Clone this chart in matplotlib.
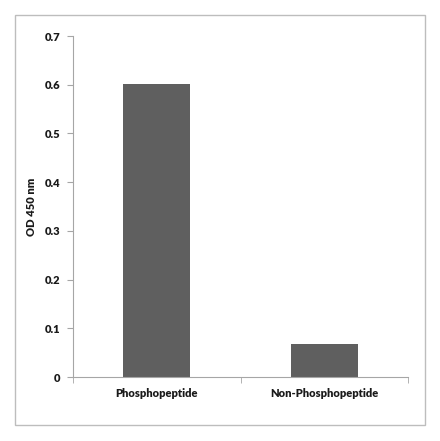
import numpy as np
import matplotlib
matplotlib.use('Agg')
import matplotlib.pyplot as plt
from matplotlib.patches import Rectangle

plt.rcParams['font.family'] = ['Lato', 'DejaVu Sans']

# data
categories = ['Phosphopeptide', 'Non-Phosphopeptide']
od_values = [0.601, 0.068]

fig = plt.figure(figsize=(4.40, 4.41), dpi=100)

# outer frame around the whole chart
fig.patches.append(Rectangle((15/440, 16/441), 410/440, 410/441, transform=fig.transFigure,
                             fill=False, edgecolor='#bdbdbd', linewidth=1.0))

ax = fig.add_axes([73/440, 64/441, 335/440, 341/441])
x = np.arange(len(categories))
ax.bar(x, od_values, width=0.4, color='#5f5f5f')

txt = dict(fontsize=8, fontweight='heavy', color='#1a1a1a')

ax.set_xlim(-0.5, 1.5)
ax.set_ylim(0, 0.7)
ax.set_yticks(np.arange(0, 0.71, 0.1))
ax.set_yticklabels(['0', '0.1', '0.2', '0.3', '0.4', '0.5', '0.6', '0.7'], **txt)
ax.set_xticks(x)
ax.set_xticklabels(categories, **txt)
ax.tick_params(axis='x', length=0, pad=8)
ax.set_xticks([-0.5, 0.5, 1.5], minor=True)
ax.tick_params(axis='x', which='minor', length=4, color='#a6a6a6', direction='out')
ax.tick_params(axis='y', length=4, color='#a6a6a6', direction='out', pad=5)

for s in ['top', 'right']:
    ax.spines[s].set_visible(False)
for s in ['left', 'bottom']:
    ax.spines[s].set_color('#a6a6a6')
    ax.spines[s].set_linewidth(0.8)

ax.set_ylabel('OD 450 nm', **txt)
ax.yaxis.set_label_coords(-0.108, 0.5)

fig.savefig('out.png', dpi=100)
